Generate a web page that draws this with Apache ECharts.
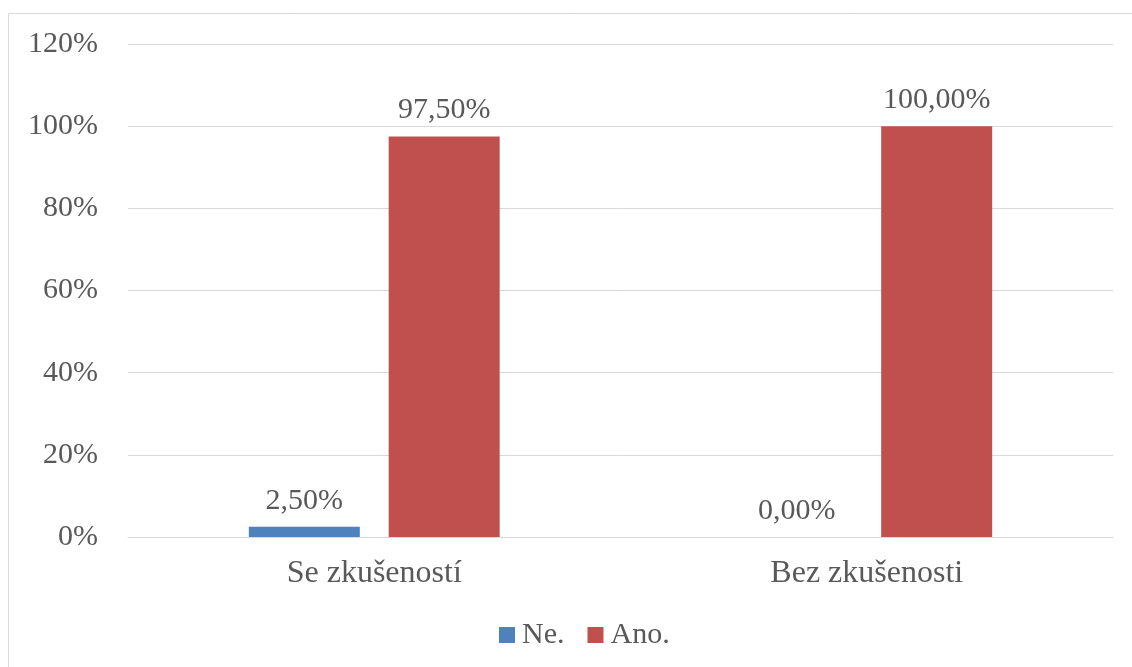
<!DOCTYPE html>
<html>
<head>
<meta charset="utf-8">
<script src="https://cdn.jsdelivr.net/npm/echarts@6/dist/echarts.min.js"></script>
<style>
  html, body { margin: 0; padding: 0; background: #fff; }
  #chart { width: 1132px; height: 667px; }
</style>
</head>
<body>
<div id="chart"></div>
<script>
const categories = ['Se zkušeností', 'Bez zkušenosti'];
const neValues = [2.5, 0];
const anoValues = [97.5, 100];
const seriesNames = ['Ne.', 'Ano.'];

const font = '"Liberation Serif", "Times New Roman", serif';
const textColor = '#595959';

// 2.5 -> "2,50%"
const pct = (p) => p.value.toFixed(2).replace('.', ',') + '%';

const labelStyle = {
    show: true,
    position: 'top',
    distance: 11,
    formatter: pct,
    fontFamily: font,
    fontSize: 30,
    color: textColor
};

let myChart = echarts.init(document.getElementById('chart'));

let option = {
    animation: false,
    graphic: [{
        type: 'rect',
        shape: { x: 8.5, y: 13.5, width: 1130, height: 660 },
        style: { fill: 'none', stroke: '#d9d9d9', lineWidth: 1 },
        silent: true
    }],
    grid: { left: 128, right: 19, top: 44, bottom: 130 },
    legend: {
        bottom: 12,
        left: 494,
        itemWidth: 16,
        itemHeight: 16,
        itemGap: 23,
        icon: 'rect',
        textStyle: { fontFamily: font, fontSize: 30, color: textColor, padding: [0, 0, 0, 2] },
        data: seriesNames
    },
    xAxis: {
        type: 'category',
        data: categories,
        axisLine: { lineStyle: { color: '#d9d9d9', width: 1 } },
        axisTick: { show: false },
        axisLabel: { fontFamily: font, fontSize: 32, color: textColor, margin: 21 }
    },
    yAxis: {
        type: 'value',
        min: 0,
        max: 120,
        interval: 20,
        axisLine: { show: false },
        axisTick: { show: false },
        splitLine: { lineStyle: { color: '#d9d9d9', width: 1 } },
        axisLabel: {
            formatter: '{value}%',
            fontFamily: font, fontSize: 30, color: textColor, margin: 30
        }
    },
    series: [{
        name: seriesNames[0],
        type: 'bar',
        data: neValues,
        barWidth: 111,
        barGap: '26%',
        itemStyle: { color: '#4f81bd' },
        label: labelStyle
    }, {
        name: seriesNames[1],
        type: 'bar',
        data: anoValues,
        barWidth: 111,
        itemStyle: { color: '#c0504d' },
        label: labelStyle
    }]
};

myChart.setOption(option);
</script>
</body>
</html>
